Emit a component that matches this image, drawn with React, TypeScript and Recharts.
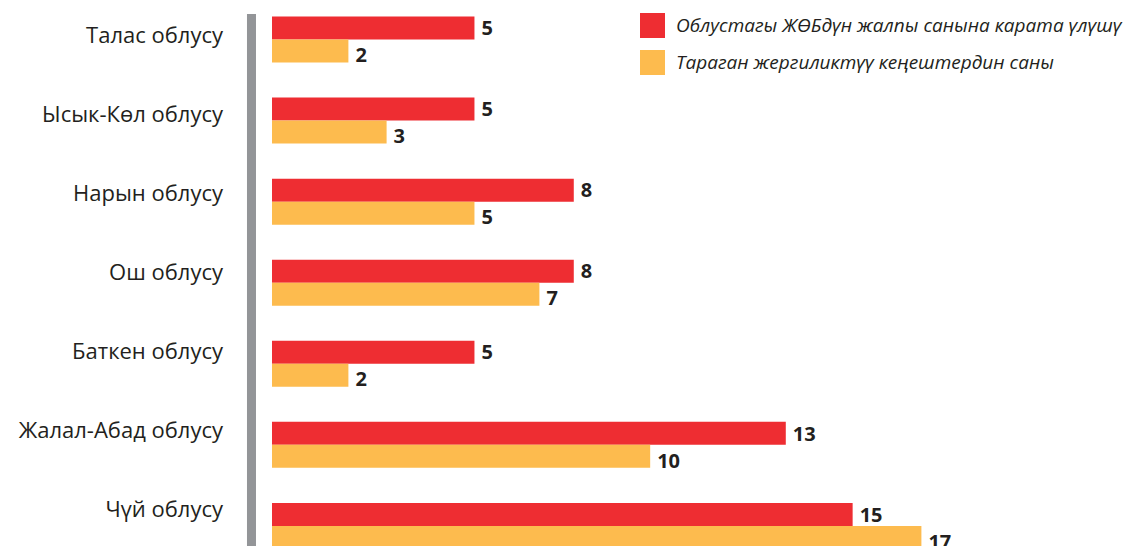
import React from 'react';
import { BarChart, Bar, XAxis, YAxis, LabelList, Legend, ReferenceLine } from 'recharts';

const categories = [
  'Талас облусу',
  'Ысык-Көл облусу',
  'Нарын облусу',
  'Ош облусу',
  'Баткен облусу',
  'Жалал-Абад облусу',
  'Чүй облусу',
];
const shareValues = [5.3, 5.3, 7.9, 7.9, 5.3, 13.45, 15.2];
const councilValues = [2, 3, 5.3, 7, 2, 9.9, 17];
const seriesNames = [
  'Облустагы ЖӨБдүн жалпы санына карата үлүшү',
  'Тараган жергиликтүү кеңештердин саны',
];
const seriesColors = ['#ee2d32', '#fdbb4e'];

const data = categories.map((name, i) => ({
  name,
  share: shareValues[i],
  councils: councilValues[i],
}));

const FONT = '"Open Sans", "DejaVu Sans", sans-serif';
const TEXT = '#231f20';

const makeLabel = (shift: number) => (props: any) => {
  const vb = props.viewBox && props.viewBox.width !== undefined ? props.viewBox : props;
  const x = Number(vb.x) + Number(vb.width) + 7;
  const y = Number(vb.y) + Number(vb.height) / 2 + shift;
  return (
    <text
      x={x}
      y={y}
      dy="0.36em"
      textAnchor="start"
      fontFamily={FONT}
      fontWeight={700}
      fontSize={20}
      fill={TEXT}
    >
      {Math.round(Number(props.value))}
    </text>
  );
};

const renderLegend = (props: any) => {
  const items =
    props && props.payload && props.payload.length
      ? props.payload.map((p: any) => ({ value: p.value, color: p.color }))
      : seriesNames.map((n, i) => ({ value: n, color: seriesColors[i] }));
  return (
    <div style={{ fontFamily: FONT, fontStyle: 'italic', fontSize: 19, color: TEXT }}>
      {items.map((it: any, i: number) => (
        <div
          key={i}
          style={{ display: 'flex', alignItems: 'center', height: 25, marginBottom: 12.3 }}
        >
          <div style={{ width: 25, height: 25, background: it.color, marginRight: 11, flex: 'none' }} />
          <span style={{ whiteSpace: 'nowrap' }}>{it.value}</span>
        </div>
      ))}
    </div>
  );
};

export default function App() {
  return (
    <div
      style={{
        position: 'absolute',
        left: 0,
        top: 0,
        width: 1130,
        height: 546,
        overflow: 'hidden',
        background: '#ffffff',
      }}
    >
      <BarChart
        width={1130}
        height={566}
        data={data}
        layout="vertical"
        margin={{ top: 14, right: 17.6, bottom: 0, left: 0 }}
        barGap={0}
        barSize={23}
        style={{ fontFamily: FONT }}
      >
        <XAxis type="number" domain={[0, 22]} hide />
        <YAxis
          yAxisId="labels"
          type="category"
          dataKey="name"
          width={272}
          axisLine={false}
          tickLine={false}
          tickSize={0}
          tickMargin={49}
          padding={{ top: -18.5, bottom: 17.5 }}
          tick={{ fill: TEXT, fontSize: 22, fontFamily: FONT }}
          interval={0}
        />
        <YAxis
          yAxisId="bars"
          type="category"
          dataKey="name"
          hide
          width={0}
          padding={{ top: -15.5, bottom: 0 }}
        />
        <ReferenceLine
          yAxisId="bars"
          x={-0.537}
          ifOverflow="visible"
          stroke="#939598"
          strokeWidth={9}
        />
        <Legend
          layout="vertical"
          align="center"
          verticalAlign="middle"
          content={renderLegend}
          wrapperStyle={{ top: 12.7, left: 640, right: 'auto', bottom: 'auto', width: 490 }}
        />
        <Bar
          yAxisId="bars"
          dataKey="share"
          name={seriesNames[0]}
          fill={seriesColors[0]}
          isAnimationActive={false}
        >
          <LabelList dataKey="share" content={makeLabel(0)} />
        </Bar>
        <Bar
          yAxisId="bars"
          dataKey="councils"
          name={seriesNames[1]}
          fill={seriesColors[1]}
          isAnimationActive={false}
        >
          <LabelList dataKey="councils" content={makeLabel(4)} />
        </Bar>
      </BarChart>
    </div>
  );
}
